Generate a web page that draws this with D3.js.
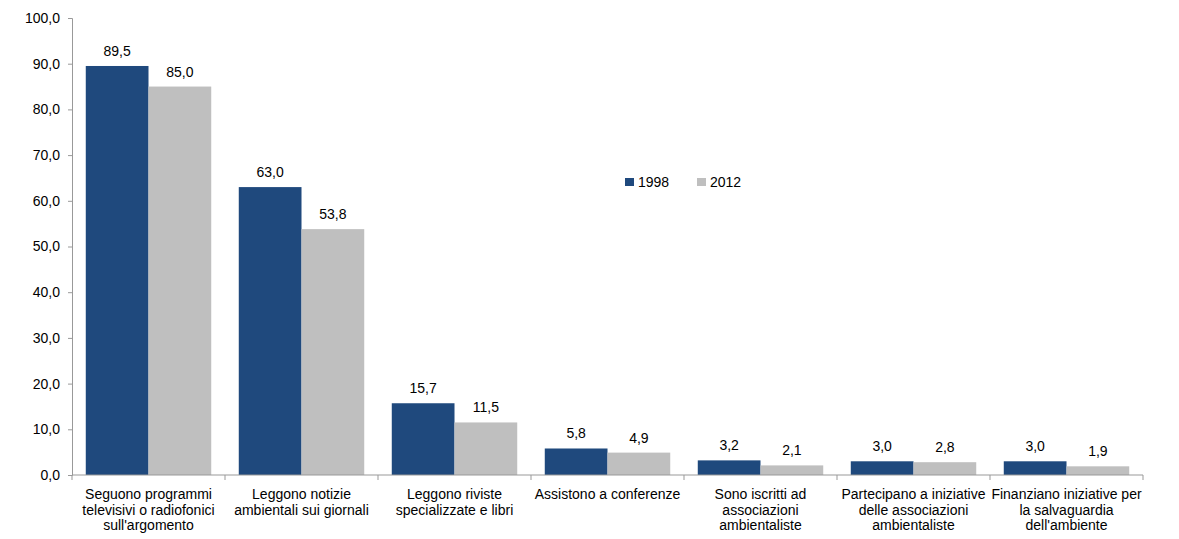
<!DOCTYPE html>
<html>
<head>
<meta charset="utf-8">
<script src="https://cdn.jsdelivr.net/npm/d3@7"></script>
<style>
  body { margin: 0; background: #fff; }
  svg { display: block; font-family: "Liberation Sans", Arial, sans-serif; }
</style>
</head>
<body>
<svg id="chart" width="1179" height="539"></svg>
<script>
const categories = [
  ["Seguono programmi", "televisivi o radiofonici", "sull'argomento"],
  ["Leggono notizie", "ambientali sui giornali"],
  ["Leggono riviste", "specializzate e libri"],
  ["Assistono a conferenze"],
  ["Sono iscritti ad", "associazioni", "ambientaliste"],
  ["Partecipano a iniziative", "delle associazioni", "ambientaliste"],
  ["Finanziano iniziative per", "la salvaguardia", "dell'ambiente"]
];
const seriesNames = ["1998", "2012"];
const values1998 = [89.5, 63.0, 15.7, 5.8, 3.2, 3.0, 3.0];
const values2012 = [85.0, 53.8, 11.5, 4.9, 2.1, 2.8, 1.9];
const yTicks = [0, 10, 20, 30, 40, 50, 60, 70, 80, 90, 100];
const colors = ["#1f497d", "#bfbfbf"];

const svg = d3.select("#chart");
const plotLeft = 72, plotRight = 1143, plotTop = 18, plotBottom = 475;
const fontSize = 14;
const fmt = v => v.toFixed(1).replace(".", ",");

const idx = d3.range(categories.length);
const x0 = d3.scaleBand().domain(idx).range([plotLeft, plotRight]).paddingInner(0.18).paddingOuter(0.09);
const x1 = d3.scaleBand().domain(seriesNames).range([0, x0.bandwidth()]);
const y = d3.scaleLinear().domain([0, 100]).range([plotBottom, plotTop]);

// y axis
const yAxis = svg.append("g").attr("transform", `translate(${plotLeft},0)`)
  .call(d3.axisLeft(y).tickValues(yTicks).tickFormat(fmt).tickSize(4).tickPadding(8));
yAxis.select(".domain").attr("stroke", "#999");
yAxis.selectAll(".tick line").attr("stroke", "#999");
yAxis.selectAll("text").attr("font-size", fontSize).attr("fill", "#000")
  .style("font-family", "'Liberation Sans', Arial, sans-serif");

// bars with value labels
const data = [values1998, values2012];
const groups = svg.append("g").selectAll("g").data(idx).join("g")
  .attr("transform", i => `translate(${x0(i)},0)`);
seriesNames.forEach((s, si) => {
  groups.append("rect")
    .attr("x", x1(s))
    .attr("width", x1.bandwidth())
    .attr("y", i => y(data[si][i]))
    .attr("height", i => y(0) - y(data[si][i]))
    .attr("fill", colors[si]);
  groups.append("text")
    .attr("x", x1(s) + x1.bandwidth() / 2)
    .attr("y", i => y(data[si][i]) - 10)
    .attr("text-anchor", "middle")
    .attr("font-size", fontSize)
    .text(i => fmt(data[si][i]));
});

// x axis line with category separators
const xg = svg.append("g");
xg.append("line").attr("x1", plotLeft).attr("x2", plotRight).attr("y1", plotBottom).attr("y2", plotBottom)
  .attr("stroke", "#999");
const step = x0.step();
d3.range(categories.length + 1).forEach(k => {
  const xx = plotLeft + k * step;
  xg.append("line").attr("x1", xx).attr("x2", xx).attr("y1", plotBottom).attr("y2", plotBottom + 5)
    .attr("stroke", "#999");
});

// category labels
svg.append("g").selectAll("text").data(idx).join("text")
  .attr("x", i => x0(i) + x0.bandwidth() / 2)
  .attr("y", 499)
  .attr("text-anchor", "middle")
  .attr("font-size", fontSize)
  .each(function(i) {
    const t = d3.select(this);
    categories[i].forEach((line, li) => {
      t.append("tspan").attr("x", x0(i) + x0.bandwidth() / 2).attr("dy", li === 0 ? 0 : 15.5).text(line);
    });
  });

// legend
const legend = svg.append("g").attr("transform", "translate(625,182)");
seriesNames.forEach((s, si) => {
  const g = legend.append("g").attr("transform", `translate(${si * 72},0)`);
  g.append("rect").attr("x", 0).attr("y", -4).attr("width", 9).attr("height", 8).attr("fill", colors[si]);
  g.append("text").attr("x", 13).attr("y", 5).attr("font-size", fontSize).text(s);
});
</script>
</body>
</html>
